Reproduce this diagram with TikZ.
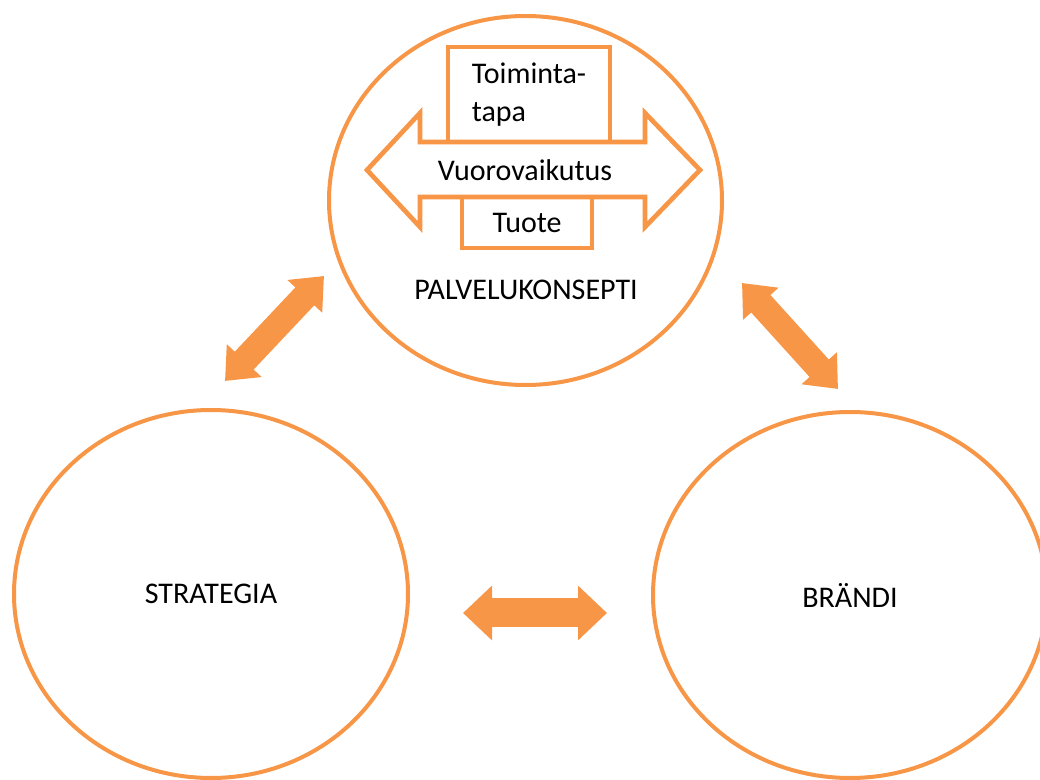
\documentclass[tikz,border=0pt]{standalone}
\usepackage{fontspec}
\setmainfont{Carlito}
\usetikzlibrary{arrows.meta}
\usetikzlibrary{shapes.geometric}
\definecolor{orng}{rgb}{0.9686,0.5882,0.2745}

\begin{document}
\begin{tikzpicture}[line join=miter,x=0.75pt,y=-0.75pt,
  ring/.style={draw=orng,line width=3pt,ellipse,inner sep=0pt},
  innerbox/.style={draw=orng,line width=3.5pt,inner sep=0pt,align=left},
  link/.style={orng,line width=#1},
  every node/.style={font=\fontsize{22.5}{28}\selectfont}]
\useasboundingbox (0,0) rectangle (1040,780);
% the three circles
\node[ring,minimum width=294.75pt,minimum height=276.75pt] (palv) at (525.5,200.5) {};
\node[ring,minimum width=295.5pt,minimum height=276pt] (strat) at (211,594) {STRATEGIA};
\node[ring,minimum width=295.5pt,minimum height=274.5pt] (brand) at (850,595) {BRÄNDI};
\node (palvlabel) at (526,290) {PALVELUKONSEPTI};
% inner double arrow
\draw[orng,line width=3.5pt,fill=white] (367,170) -- (420,113) -- (420,142) -- (645,142) -- (645,113) -- (700,170) -- (645,227) -- (645,197) -- (420,197) -- (420,227) -- cycle;
\node (vuoro) at (525,170) {Vuorovaikutus};
\node[innerbox,minimum width=121.5pt,minimum height=71.25pt] (toim) at (529,94.5) {Toiminta-\\tapa};
\node[innerbox,minimum width=97.5pt,minimum height=38.25pt] (tuote) at (527,222.5) {Tuote};
% arrows between the circles
\coordinate (sp1) at (225,381);
\coordinate (sp2) at (324,276);
\coordinate (pb1) at (742,283);
\coordinate (pb2) at (838,389);
\coordinate (sb1) at (463,613);
\coordinate (sb2) at (607,613);
\draw[link=19.5pt,{Triangle[length=21pt,width=34.5pt]}-{Triangle[length=21pt,width=34.5pt]}] (sp1) -- (sp2);
\draw[link=19.5pt,{Triangle[length=21pt,width=34.5pt]}-{Triangle[length=21pt,width=34.5pt]}] (pb1) -- (pb2);
\draw[link=21.75pt,{Triangle[length=21.75pt,width=39.75pt]}-{Triangle[length=21.75pt,width=39.75pt]}] (sb1) -- (sb2);
\end{tikzpicture}
\end{document}
